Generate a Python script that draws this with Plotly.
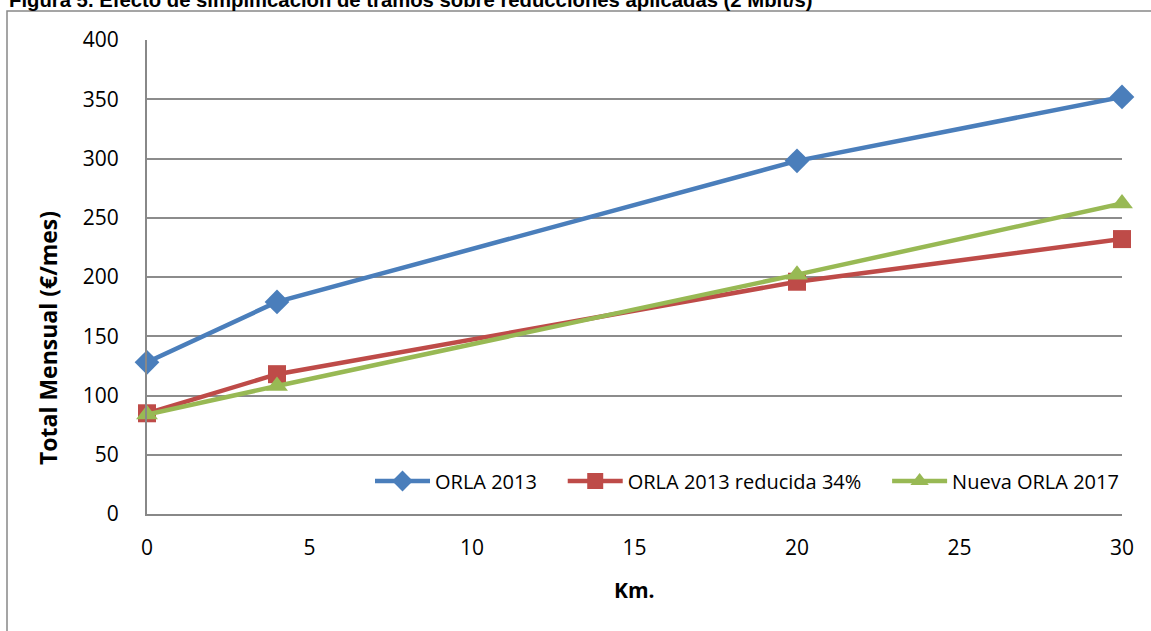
import plotly.graph_objects as go

km = [0, 4, 20, 30]
orla_2013 = [128, 179, 298, 352]
orla_2013_red = [85, 118, 196, 232]
nueva_orla_2017 = [84, 108, 202, 262]

series_names = ["ORLA 2013", "ORLA 2013 reducida 34%", "Nueva ORLA 2017"]
colors = ["#4A7EBB", "#BE4B48", "#98B954"]
symbols = ["diamond", "square", "triangle-up"]
marker_sizes = [19, 18, 19]
x_ticks = [0, 5, 10, 15, 20, 25, 30]
y_ticks = [0, 50, 100, 150, 200, 250, 300, 350, 400]

title_text = "Figura 5. Efecto de simplificación de tramos sobre reducciones aplicadas (2 Mbit/s)"
x_title = "Km."
y_title = "Total Mensual (€/mes)"

W, H = 1151, 631
ml, mr, mt, mb = 147, 29, 40, 117
pw, ph = W - ml - mr, H - mt - mb


def px_x(px):
    return (px - ml) / pw


def px_y(py):
    return (H - mb - py) / ph


font_main = "Open Sans, Lato, sans-serif"
pads = ["\u00a0" * 4, "\u00a0" * 4, ""]

fig = go.Figure()
for name, ys, c, s, ms, pd_ in zip(series_names, [orla_2013, orla_2013_red, nueva_orla_2017],
                                   colors, symbols, marker_sizes, pads):
    fig.add_trace(go.Scatter(
        x=km, y=ys, name=name + pd_, mode="lines+markers",
        line=dict(color=c, width=4.5),
        marker=dict(symbol=s, size=ms, color=c),
        cliponaxis=False,
    ))

fig.update_layout(
    width=W, height=H,
    margin=dict(l=ml, r=mr, t=mt, b=mb, autoexpand=False),
    paper_bgcolor="white", plot_bgcolor="white",
    font=dict(family=font_main, color="black", size=21),
    showlegend=True,
    legend=dict(
        orientation="h", x=px_x(370), y=px_y(481),
        xanchor="left", yanchor="middle",
        bgcolor="rgba(0,0,0,0)", font=dict(size=20, family=font_main),
        itemwidth=55, tracegroupgap=0,
    ),
    xaxis=dict(
        range=[0, 30], tickvals=x_ticks, showgrid=False, zeroline=False,
        showline=True, linecolor="#888888", linewidth=2,
        ticks="", ticklen=0, ticklabelstandoff=14,
        tickfont=dict(size=21),
    ),
    yaxis=dict(
        range=[0, 400], tickvals=y_ticks, showgrid=True, gridcolor="#8c8c8c", gridwidth=2,
        zeroline=False, showline=True, linecolor="#888888", linewidth=2,
        ticks="", ticklen=0, ticklabelstandoff=22,
        tickfont=dict(size=21),
    ),
)

# axis titles
fig.add_annotation(
    text="<b>" + x_title + "</b>", xref="paper", yref="paper",
    x=px_x(634), y=px_y(590), xanchor="center", yanchor="middle", showarrow=False,
    font=dict(family=font_main, size=21, color="black"),
)
fig.add_annotation(
    text="<b>" + y_title + "</b>", xref="paper", yref="paper",
    x=px_x(48), y=px_y(338), xanchor="center", yanchor="middle", showarrow=False,
    textangle=-90, font=dict(family=font_main, size=23, color="black"),
)

# title annotation (partially cut at the top, as in the reference)
fig.add_annotation(
    text="<b>" + title_text + "</b>",
    xref="paper", yref="paper",
    x=px_x(7), y=px_y(13),
    xanchor="left", yanchor="bottom", showarrow=False,
    font=dict(family="Liberation Sans, Arial, sans-serif", size=20.3, color="black"),
)

# outer chart border (left and top visible)
fig.add_shape(
    type="rect", xref="paper", yref="paper",
    x0=px_x(7), x1=px_x(W + 5),
    y0=px_y(H + 5), y1=px_y(11),
    line=dict(color="#888888", width=1.5), fillcolor="rgba(0,0,0,0)", layer="below",
)

fig.write_html("out.html",
               config={"displayModeBar": False},
               post_script="document.body.style.margin='0';document.body.style.overflow='hidden';")
